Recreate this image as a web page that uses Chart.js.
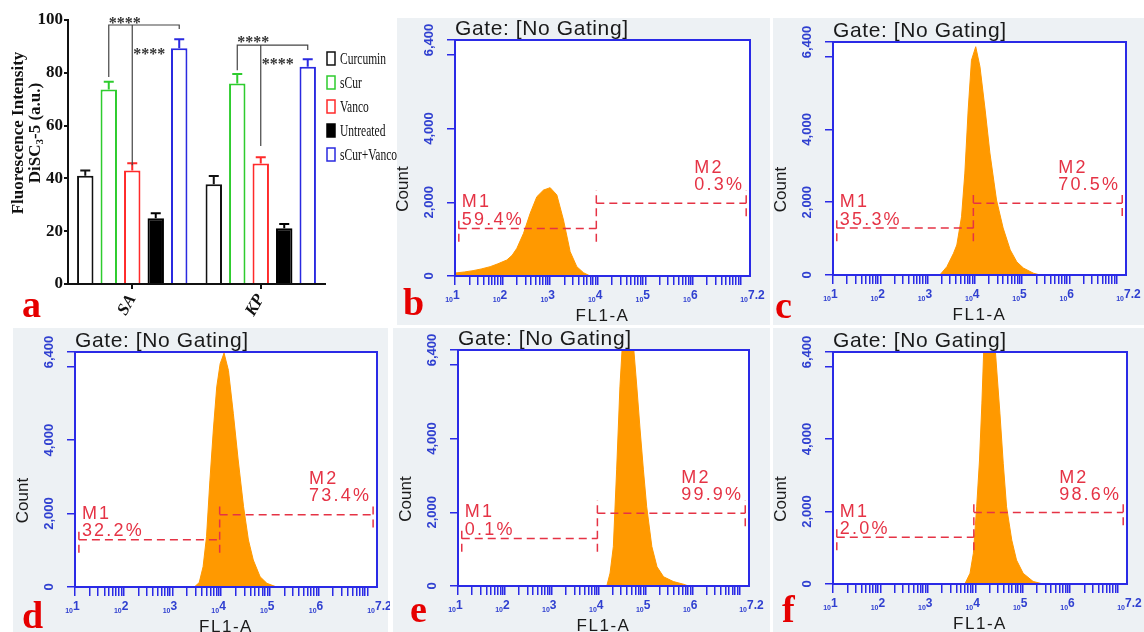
<!DOCTYPE html>
<html>
<head>
<meta charset="utf-8">
<title>DiSC3-5 membrane depolarisation</title>
<script src="https://cdn.jsdelivr.net/npm/chart.js@4.4.1/dist/chart.umd.min.js"></script>
<style>
  html, body { margin: 0; padding: 0; background: #fff; }
  body { position: relative; width: 1144px; height: 632px; overflow: hidden; }
  .bg { position: absolute; background: #edf1f4; }
  canvas { position: absolute; }
  .tag { position: absolute; font: bold 38px "Liberation Serif", serif; color: #e60000; line-height: 38px; }
</style>
</head>
<body>
<div class="bg" style="left:397px;top:18px;width:373px;height:307px"></div>
<div class="bg" style="left:773px;top:18px;width:371px;height:307px"></div>
<div class="bg" style="left:13px;top:328px;width:375px;height:304px"></div>
<div class="bg" style="left:393px;top:328px;width:377px;height:304px"></div>
<div class="bg" style="left:773px;top:328px;width:371px;height:304px"></div>

<canvas id="pa" width="397" height="320" style="left:0;top:0"></canvas>
<canvas id="pb" width="380" height="325" style="left:390px;top:0"></canvas>
<canvas id="pc" width="374" height="325" style="left:770px;top:0"></canvas>
<canvas id="pd" width="390" height="307" style="left:0;top:325px"></canvas>
<canvas id="pe" width="380" height="307" style="left:390px;top:325px"></canvas>
<canvas id="pf" width="374" height="307" style="left:770px;top:325px"></canvas>

<div class="tag" style="left:22px;top:285px">a</div>
<div class="tag" style="left:403px;top:283px">b</div>
<div class="tag" style="left:775px;top:286px">c</div>
<div class="tag" style="left:22px;top:596px">d</div>
<div class="tag" style="left:410px;top:590px">e</div>
<div class="tag" style="left:782px;top:590px">f</div>

<script>
// ---- panel a: DiSC3-5 fluorescence (mean + SEM) ----
const STRAINS = ['SA', 'KP'];
const TREATMENTS = ['Curcumin', 'sCur', 'Vanco', 'Untreated', 'sCur+Vanco'];
const CURCUMIN = [41.0, 37.8];
const SCUR = [73.7, 75.9];
const VANCO = [43.0, 45.6];
const UNTREATED = [24.9, 21.1];
const SCUR_VANCO = [89.3, 82.3];
const CURCUMIN_SEM = [2.0, 3.1];
const SCUR_SEM = [2.9, 3.6];
const VANCO_SEM = [2.7, 2.4];
const UNTREATED_SEM = [1.9, 1.6];
const SCUR_VANCO_SEM = [3.4, 2.8];

// significance brackets (y in a.u.)
const BRACKET_TOP = [98.1, 90.5];
const BRACKET_LEFT_END = [78.4, 81.0];
const BRACKET_RIGHT_END = [96.6, 88.6];
const VANCO_LEG_END = [45.0, 52.3];
const STAR_TOP = [100.0, 92.8];
const STAR_LOW = [88.3, 84.5];
const STARS = '****';

// ---- panels b-f: FL1-A histograms (log10 FL1-A, count) ----
const B_EXP = [1.0, 1.2, 1.38, 1.55, 1.74, 1.9, 2.09, 2.2, 2.3, 2.44, 2.58, 2.72, 2.86, 3.0, 3.14, 3.28, 3.42, 3.56, 3.7, 3.84];
const B_COUNT = [80, 110, 145, 190, 253, 330, 434, 560, 750, 1157, 1700, 2150, 2330, 2395, 2200, 1520, 660, 253, 90, 0];
const C_EXP = [3.26, 3.41, 3.55, 3.62, 3.72, 3.79, 3.86, 3.93, 4.02, 4.11, 4.22, 4.32, 4.46, 4.6, 4.75, 4.89, 5.03, 5.24, 5.38];
const C_COUNT = [0, 229, 596, 824, 1600, 2800, 4530, 5900, 6270, 5720, 4530, 3350, 2060, 1290, 690, 360, 190, 50, 0];
const D_EXP = [3.45, 3.55, 3.63, 3.7, 3.77, 3.84, 3.91, 3.98, 4.06, 4.15, 4.25, 4.35, 4.46, 4.56, 4.66, 4.8, 4.94, 5.14];
const D_COUNT = [0, 120, 553, 1370, 2910, 4275, 5450, 6080, 6370, 5900, 4730, 3460, 2190, 1280, 735, 280, 100, 0];
const E_EXP = [4.17, 4.24, 4.31, 4.38, 4.45, 4.5, 4.58, 4.66, 4.74, 4.81, 4.88, 4.95, 5.02, 5.13, 5.24, 5.38, 5.59, 5.8, 5.91];
const E_COUNT = [0, 350, 1070, 3150, 5400, 6500, 7400, 7300, 6500, 5400, 4230, 3150, 2150, 1070, 520, 250, 120, 50, 0];
const F_EXP = [3.78, 3.89, 3.96, 4.03, 4.09, 4.14, 4.18, 4.26, 4.35, 4.42, 4.47, 4.52, 4.59, 4.66, 4.77, 4.87, 5.01, 5.22, 5.43];
const F_COUNT = [0, 295, 847, 2130, 3420, 4990, 6500, 7400, 7300, 6500, 5600, 4710, 3330, 2130, 1210, 660, 295, 70, 0];

const M1_PCT = ['59.4%', '35.3%', '32.2%', '0.1%', '2.0%'];
const M2_PCT = ['0.3%', '70.5%', '73.4%', '99.9%', '98.6%'];
const M1_GATE = [1.08, 3.97];   // log10 FL1-A
const M2_GATE = [3.97, 7.12];
const M1_LEVEL = 1290, M2_LEVEL = 1970;
const M1_SPAN = [930, 1620], M2_SPAN = [1620, 2330];

const FL_DECADES = [1, 2, 3, 4, 5, 6, 7.2];
const COUNT_TICKS = [0, 2000, 4000, 6000, 6400];
const COUNT_LABELS = ['0', '2,000', '4,000', '', '6,400'];

// ---- styling ----
const SERIES = [CURCUMIN, SCUR, VANCO, UNTREATED, SCUR_VANCO];
const SEMS = [CURCUMIN_SEM, SCUR_SEM, VANCO_SEM, UNTREATED_SEM, SCUR_VANCO_SEM];
const EDGE = ['#111111', '#2ecc2e', '#ff2a2a', '#000000', '#2a2ae0'];
const FILL = ['#ffffff', '#ffffff', '#ffffff', '#000000', '#ffffff'];
const BLUE = '#2a2ae6';
const TICK_BLUE = '#3040d0';
const ORANGE = '#ff9900';
const MRED = '#e53345';
const SERIF = '"Liberation Serif", "Times New Roman", serif';
const SANS = '"Liberation Sans", Arial, sans-serif';

const barDeco = {
  id: 'barDeco',
  afterDatasetsDraw(chart) {
    const { ctx, scales: { y } } = chart;
    ctx.save();
    ctx.lineWidth = 2;
    SERIES.forEach((vals, i) => {
      ctx.strokeStyle = EDGE[i];
      chart.getDatasetMeta(i).data.forEach((bar, j) => {
        const top = y.getPixelForValue(vals[j] + SEMS[i][j]);
        ctx.beginPath();
        ctx.moveTo(bar.x, bar.y);
        ctx.lineTo(bar.x, top);
        ctx.moveTo(bar.x - 5, top);
        ctx.lineTo(bar.x + 5, top);
        ctx.stroke();
      });
    });

    ctx.strokeStyle = '#444';
    ctx.lineWidth = 1.2;
    ctx.fillStyle = '#333';
    ctx.font = 'bold 16px ' + SERIF;
    ctx.textAlign = 'left';
    ctx.textBaseline = 'middle';
    STRAINS.forEach((_, j) => {
      const xl = chart.getDatasetMeta(1).data[j].x;
      const xv = chart.getDatasetMeta(2).data[j].x;
      const xr = chart.getDatasetMeta(4).data[j].x;
      const yt = y.getPixelForValue(BRACKET_TOP[j]);
      ctx.beginPath();
      ctx.moveTo(xl, y.getPixelForValue(BRACKET_LEFT_END[j]));
      ctx.lineTo(xl, yt);
      ctx.lineTo(xr, yt);
      ctx.lineTo(xr, y.getPixelForValue(BRACKET_RIGHT_END[j]));
      ctx.moveTo(xv, yt);
      ctx.lineTo(xv, y.getPixelForValue(VANCO_LEG_END[j]));
      ctx.stroke();
      ctx.fillText(STARS, xl, y.getPixelForValue(STAR_TOP[j]) + 4);
      ctx.fillText(STARS, xv + 1, y.getPixelForValue(STAR_LOW[j]) + 4);
    });
    ctx.restore();
  },
  afterDraw(chart) {
    const ctx = chart.ctx;
    ctx.save();
    // legend
    ctx.font = '16px ' + SERIF;
    ctx.textBaseline = 'alphabetic';
    TREATMENTS.forEach((name, i) => {
      const cy = 58 + i * 24;
      ctx.fillStyle = FILL[i];
      ctx.fillRect(327, cy - 6, 8, 13);
      ctx.strokeStyle = EDGE[i];
      ctx.lineWidth = 1.5;
      ctx.strokeRect(327, cy - 6, 8, 13);
      ctx.save();
      ctx.translate(340, cy + 6);
      ctx.scale(0.72, 1);
      ctx.fillStyle = '#111';
      ctx.fillText(name, 0, 0);
      ctx.restore();
    });

    // y title
    ctx.translate(19, 133);
    ctx.rotate(-Math.PI / 2);
    ctx.fillStyle = '#111';
    ctx.textAlign = 'left';
    ctx.textBaseline = 'middle';
    ctx.font = 'bold 17px ' + SERIF;
    const t1 = 'Fluorescence Intensity';
    ctx.fillText(t1, -ctx.measureText(t1).width / 2, 0);
    const p1 = 'DiSC', p2 = '-5 (a.u.)';
    const w1 = ctx.measureText(p1).width, w3 = ctx.measureText(p2).width;
    ctx.font = 'bold 11px ' + SERIF;
    const w2 = ctx.measureText('3').width;
    let x0 = -(w1 + w2 + w3) / 2;
    ctx.font = 'bold 17px ' + SERIF;
    ctx.fillText(p1, x0, 17);
    ctx.font = 'bold 11px ' + SERIF;
    ctx.fillText('3', x0 + w1, 21);
    ctx.font = 'bold 17px ' + SERIF;
    ctx.fillText(p2, x0 + w1 + w2, 17);
    ctx.restore();
  }
};

new Chart(document.getElementById('pa'), {
  type: 'bar',
  data: {
    labels: STRAINS,
    datasets: TREATMENTS.map((name, i) => ({
      label: name,
      data: SERIES[i],
      borderColor: EDGE[i],
      backgroundColor: FILL[i],
      borderWidth: 2,
      categoryPercentage: 0.914,
      barPercentage: 0.7
    }))
  },
  options: {
    responsive: false,
    animation: false,
    devicePixelRatio: 1,
    layout: { padding: { left: 0, top: 20, right: 72, bottom: 0 } },
    plugins: { legend: { display: false }, tooltip: { enabled: false } },
    scales: {
      x: {
        afterFit: s => { s.height = 36; },
        grid: { offset: false, drawOnChartArea: false, tickLength: 5, color: '#111', lineWidth: 2 },
        border: { color: '#111', width: 2 },
        ticks: {
          minRotation: 60, maxRotation: 60, padding: 2, color: '#111',
          font: { family: SERIF, size: 17, weight: 'bold', style: 'italic' }
        }
      },
      y: {
        min: 0, max: 100,
        afterFit: s => { s.width = 68; },
        ticks: { stepSize: 20, padding: 1, color: '#111', font: { family: SERIF, size: 17, weight: 'bold' } },
        grid: { drawOnChartArea: false, tickLength: 4, color: '#111', lineWidth: 2 },
        border: { color: '#111', width: 2 }
      }
    }
  },
  plugins: [barDeco]
});

// ---- flow cytometry panels ----
const flowDeco = {
  id: 'flowDeco',
  beforeDraw(chart) {
    const { ctx, chartArea: a } = chart;
    ctx.save();
    ctx.fillStyle = '#fff';
    ctx.fillRect(a.left, a.top, a.width, a.height);
    ctx.restore();
  },
  afterDraw(chart, args, opts) {
    const { ctx, chartArea: a, scales: { x, y } } = chart;
    const k = opts.panel;
    const px = e => x.getPixelForValue(10 ** e);
    ctx.save();

    ctx.strokeStyle = BLUE;
    ctx.lineWidth = 2;
    ctx.strokeRect(a.left, a.top, a.width, a.height);

    // markers
    ctx.strokeStyle = MRED;
    ctx.lineWidth = 1.5;
    ctx.setLineDash([8, 5]);
    const seg = (x1, y1, x2, y2) => { ctx.beginPath(); ctx.moveTo(x1, y1); ctx.lineTo(x2, y2); ctx.stroke(); };
    [[M1_GATE, M1_LEVEL, M1_SPAN], [M2_GATE, M2_LEVEL, M2_SPAN]].forEach(([g, lv, sp]) => {
      seg(px(g[0]), y.getPixelForValue(lv), px(g[1]), y.getPixelForValue(lv));
      seg(px(g[0]), y.getPixelForValue(sp[0]), px(g[0]), y.getPixelForValue(sp[1]));
      seg(px(g[1]), y.getPixelForValue(sp[0]), px(g[1]), y.getPixelForValue(sp[1]));
    });
    ctx.setLineDash([]);
    ctx.fillStyle = MRED;
    ctx.font = '18px ' + SANS;
    ctx.letterSpacing = '2.2px';
    ctx.textAlign = 'left';
    ctx.textBaseline = 'alphabetic';
    ctx.fillText('M1', px(M1_GATE[0]) + 3, y.getPixelForValue(1860));
    ctx.fillText(M1_PCT[k], px(M1_GATE[0]) + 3, y.getPixelForValue(1380));
    const w = ctx.measureText(M2_PCT[k]).width;
    const mx = px(M2_GATE[1]) - 2 - w;
    ctx.fillText('M2', mx, y.getPixelForValue(2800));
    ctx.fillText(M2_PCT[k], mx, y.getPixelForValue(2330));

    // x tick labels: small "10" with exponent
    ctx.letterSpacing = '0px';
    ctx.fillStyle = TICK_BLUE;
    FL_DECADES.forEach(d => {
      const tx = px(d);
      ctx.font = 'bold 7px ' + SANS;
      ctx.textAlign = 'right';
      ctx.fillText('10', tx - 2, a.bottom + 26);
      ctx.font = 'bold 12px ' + SANS;
      ctx.textAlign = 'left';
      ctx.fillText(String(d), tx - 2, a.bottom + 23);
    });

    // y tick labels (rotated)
    ctx.font = 'bold 13px ' + SANS;
    ctx.textAlign = 'center';
    ctx.textBaseline = 'middle';
    COUNT_TICKS.forEach((v, i) => {
      if (!COUNT_LABELS[i]) return;
      ctx.save();
      ctx.translate(a.left - 26, y.getPixelForValue(v));
      ctx.rotate(-Math.PI / 2);
      ctx.fillText(COUNT_LABELS[i], 0, 0);
      ctx.restore();
    });

    // titles
    ctx.fillStyle = '#1a1a1a';
    ctx.save();
    ctx.translate(a.left - 52, (a.top + a.bottom) / 2 + 31);
    ctx.rotate(-Math.PI / 2);
    ctx.font = '17px ' + SANS;
    ctx.fillText('Count', 0, 0);
    ctx.restore();

    ctx.textBaseline = 'alphabetic';
    ctx.font = '17px ' + SANS;
    ctx.letterSpacing = '1.5px';
    ctx.fillText('FL1-A', (a.left + a.right) / 2, a.bottom + 45);
    ctx.textAlign = 'left';
    ctx.font = '21px ' + SANS;
    ctx.letterSpacing = '0.6px';
    ctx.fillText('Gate: [No Gating]', a.left, a.top - 5);
    ctx.restore();
  }
};

const FLOW_EXP = [B_EXP, C_EXP, D_EXP, E_EXP, F_EXP];
const FLOW_COUNT = [B_COUNT, C_COUNT, D_COUNT, E_COUNT, F_COUNT];
const FLOW_IDS = ['pb', 'pc', 'pd', 'pe', 'pf'];
const FLOW_PAD = [
  { left: 65, top: 40, right: 20, bottom: 49 },
  { left: 63, top: 42, right: 18, bottom: 50 },
  { left: 75, top: 27, right: 13, bottom: 45 },
  { left: 68, top: 25, right: 21, bottom: 46 },
  { left: 63, top: 27, right: 17, bottom: 48 }
];

FLOW_IDS.forEach((id, k) => {
  const pts = FLOW_EXP[k].map((e, i) => ({ x: 10 ** e, y: FLOW_COUNT[k][i] }));
  new Chart(document.getElementById(id), {
    type: 'line',
    data: {
      datasets: [{
        data: pts,
        borderColor: ORANGE,
        backgroundColor: ORANGE,
        borderWidth: 1,
        fill: 'origin',
        pointRadius: 0,
        tension: 0
      }]
    },
    options: {
      responsive: false,
      animation: false,
      devicePixelRatio: 1,
      layout: { padding: FLOW_PAD[k] },
      plugins: { legend: { display: false }, tooltip: { enabled: false }, flowDeco: { panel: k } },
      scales: {
        x: {
          type: 'logarithmic',
          min: 10, max: 10 ** 7.2,
          afterFit: s => { s.height = 0; },
          afterBuildTicks: s => {
            const t = [];
            for (let d = 1; d < 8; d++) {
              for (let m = 1; m < 10; m++) {
                const v = m * 10 ** d;
                if (v <= s.max) t.push({ value: v });
              }
            }
            s.ticks = t;
          },
          ticks: { display: false },
          grid: { drawOnChartArea: false, tickLength: 9, color: BLUE, lineWidth: 1.5 },
          border: { color: BLUE, width: 2 }
        },
        y: {
          min: 0, max: 6400,
          afterFit: s => { s.width = 0; },
          afterBuildTicks: s => { s.ticks = COUNT_TICKS.map(v => ({ value: v })); },
          ticks: { display: false },
          grid: { drawOnChartArea: false, tickLength: 8, color: BLUE, lineWidth: 1.5 },
          border: { color: BLUE, width: 2 }
        }
      }
    },
    plugins: [flowDeco]
  });
});
</script>
</body>
</html>
